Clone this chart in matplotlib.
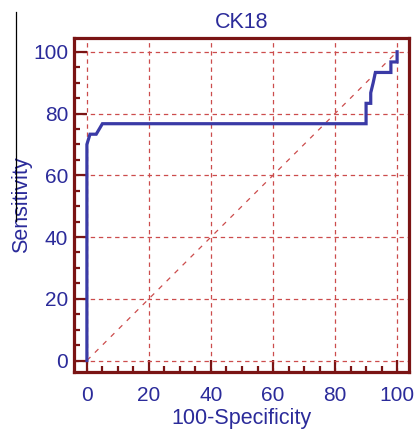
import matplotlib
matplotlib.use("Agg")
import matplotlib.pyplot as plt
from matplotlib.lines import Line2D
from matplotlib.ticker import MultipleLocator

plt.rcParams['font.family'] = ['Liberation Sans', 'DejaVu Sans']

# ROC curve points
fpr = [0, 0, 1, 3, 5, 90, 90, 91.5, 91.5, 92.3, 93, 98, 98, 100, 100]
tpr = [0, 70.0, 73.3, 73.3, 76.7, 76.7, 83.3, 83.3, 86.7, 90.0, 93.3, 93.3, 96.7, 96.7, 100]

title = 'CK18'
xlabel = '100-Specificity'
ylabel = 'Sensitivity'

frame_col = '#7a1414'
grid_col = '#cc4c4c'
line_col = '#3a3aa6'
text_col = '#2b2b9a'

fig = plt.figure(figsize=(4.15, 4.29), dpi=100)
ax = fig.add_axes([0.178, 0.133, 0.808, 0.778])

ax.plot([0, 100], [0, 100], color=grid_col, lw=0.9, ls=(0, (4, 5)))
ax.plot(fpr, tpr, color=line_col, lw=2.3, solid_joinstyle='miter', zorder=3)

ax.set_xlim(-4.2, 103.9)
ax.set_ylim(-3.7, 104.4)
ax.xaxis.set_major_locator(MultipleLocator(20))
ax.xaxis.set_minor_locator(MultipleLocator(5))
ax.yaxis.set_major_locator(MultipleLocator(20))
ax.yaxis.set_minor_locator(MultipleLocator(5))
ax.grid(True, which='major', color=grid_col, lw=0.9, ls=(0, (3.5, 3)))

for s in ax.spines.values():
    s.set_color(frame_col)
    s.set_linewidth(2.3)

ax.tick_params(which='major', direction='in', length=9, width=1.6, color=frame_col,
               labelsize=15, labelcolor=text_col)
ax.tick_params(which='minor', direction='in', length=4.5, width=1.6, color=frame_col)
ax.tick_params(axis='x', which='major', pad=10)
ax.tick_params(axis='y', which='major', pad=4)

ax.set_title(title, fontsize=15.5, color=text_col, pad=7)
ax.set_xlabel(xlabel, fontsize=15.5, color=text_col, labelpad=2)
ax.set_ylabel(ylabel, fontsize=15.5, color=text_col, labelpad=1)

fig.add_artist(Line2D([16 / 415, 16 / 415], [1 - 12 / 429, 1 - 221 / 429],
                      transform=fig.transFigure, color='black', lw=0.9))

fig.savefig('out.png', dpi=100)
